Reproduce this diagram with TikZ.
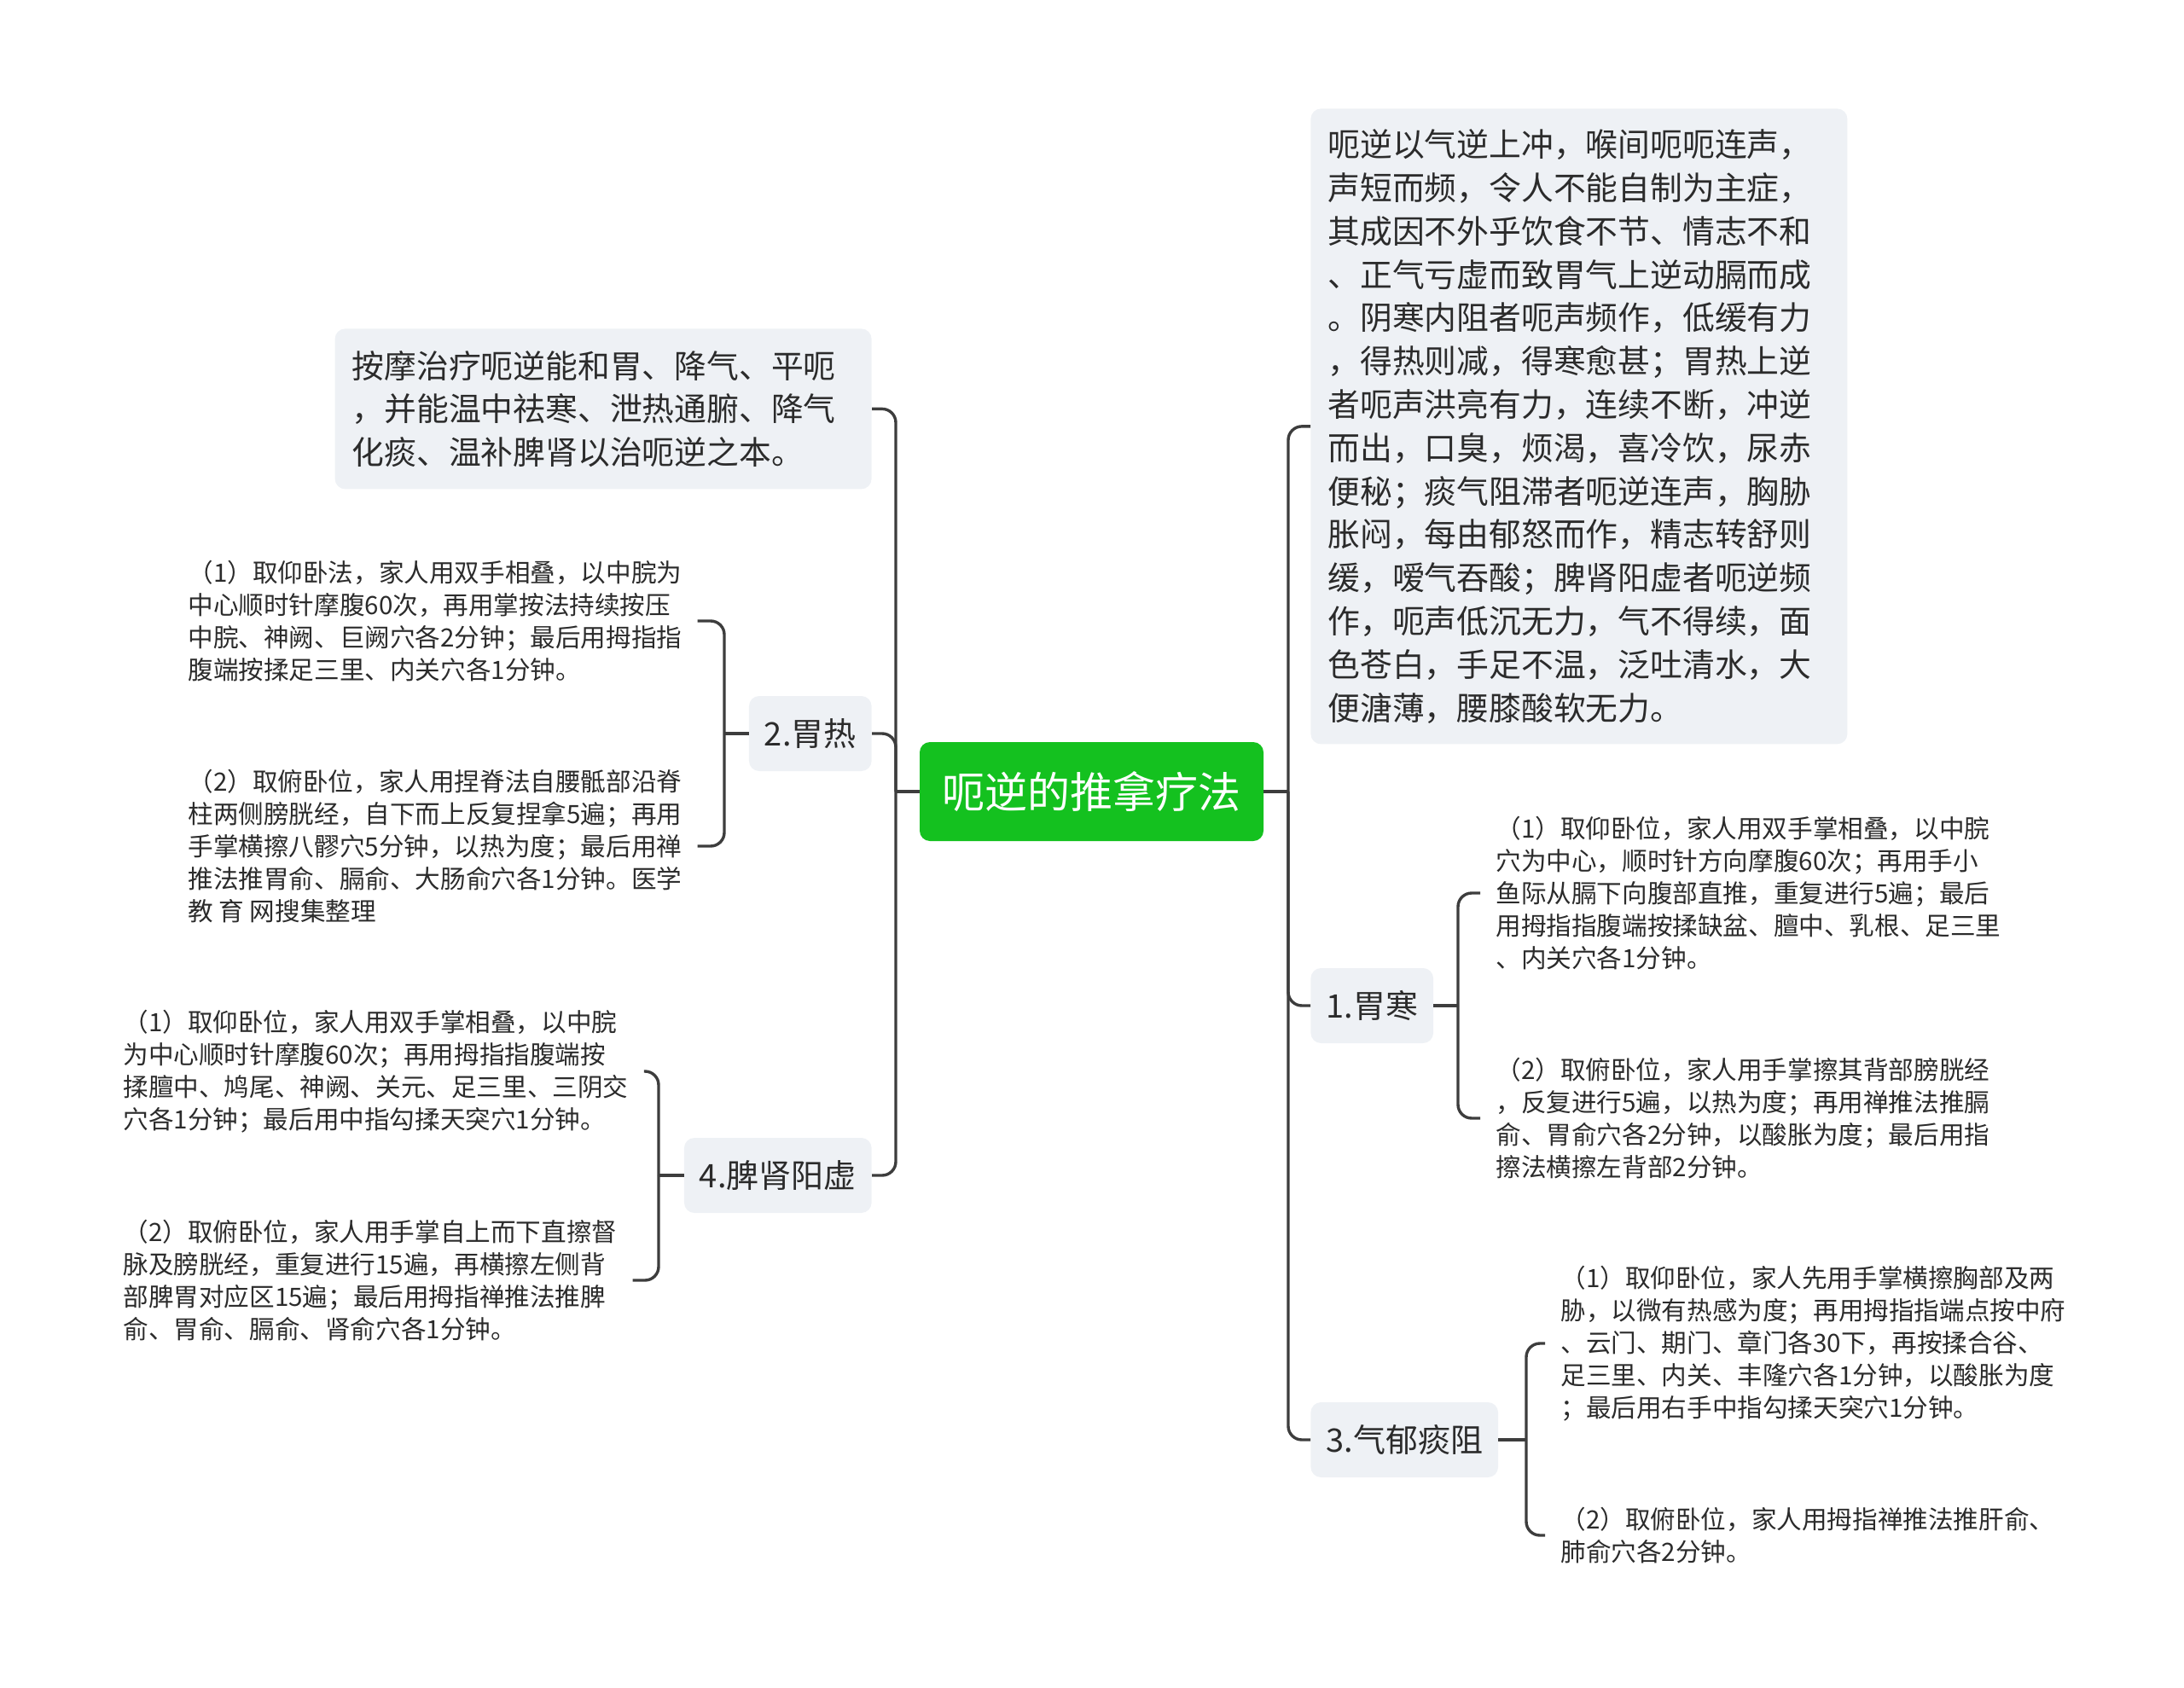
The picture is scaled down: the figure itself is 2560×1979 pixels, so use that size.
\documentclass[tikz,border=0pt]{standalone}
\usepackage{fontspec}
\setmainfont{Noto Sans CJK SC}
\usepackage{xcolor}
\definecolor{rootgreen}{HTML}{14C11F}
\definecolor{boxgray}{HTML}{EEF1F5}
\definecolor{linegray}{HTML}{3D3D3D}
\definecolor{textgray}{HTML}{2B2B2B}
\usetikzlibrary{positioning, calc}

\begin{document}
\begin{tikzpicture}[x=0.5pt, y=-0.5pt,
    root/.style={rectangle, rounded corners=6pt, fill=rootgreen, text=white, minimum width=201.5pt, minimum height=58pt, font=\fontsize{25pt}{30pt}\selectfont},
    textbox/.style={rectangle, rounded corners=6pt, fill=boxgray, text=textgray, text width=294.5pt, inner xsep=10pt, align=left, font=\fontsize{18.9pt}{25.4pt}\selectfont},
    branch/.style={rectangle, rounded corners=6pt, fill=boxgray, text=textgray, inner xsep=9pt, minimum height=44pt, font=\fontsize{19pt}{23pt}\selectfont},
    leaf/.style={rectangle, inner xsep=9pt, inner ysep=3pt, align=left, text=textgray, font=\fontsize{14.8pt}{19pt}\selectfont},
    link/.style={draw=linegray, line width=1.7pt, rounded corners=8pt}]

        \useasboundingbox (0,0) rectangle (2560,1979);

        % Wurzel
        \node[root] (root) at (1279.5,928) {呃逆的推拿疗法};

        % Linke Seite
        \node[textbox, anchor=north east, minimum height=94pt] (intro) at (1022,385) {按摩治疗呃逆能和胃、降气、平呃\\，并能温中祛寒、泄热通腑、降气\\化痰、温补脾肾以治呃逆之本。};
        \node[branch, anchor=east] (weire) at (1022,860) {2.胃热};
        \node[branch, anchor=east] (pishen) at (1022,1378) {4.脾肾阳虚};

        \node[leaf, anchor=west] (weire1) at (202,728) {（1）取仰卧法，家人用双手相叠，以中脘为\\中心顺时针摩腹60次，再用掌按法持续按压\\中脘、神阙、巨阙穴各2分钟；最后用拇指指\\腹端按揉足三里、内关穴各1分钟。};
        \node[leaf, anchor=west] (weire2) at (202,992) {（2）取俯卧位，家人用捏脊法自腰骶部沿脊\\柱两侧膀胱经，自下而上反复捏拿5遍；再用\\手掌横擦八髎穴5分钟，以热为度；最后用禅\\推法推胃俞、膈俞、大肠俞穴各1分钟。医学\\教 育 网搜集整理};

        \node[leaf, anchor=west] (pishen1) at (126,1256) {（1）取仰卧位，家人用双手掌相叠，以中脘\\为中心顺时针摩腹60次；再用拇指指腹端按\\揉膻中、鸠尾、神阙、关元、足三里、三阴交\\穴各1分钟；最后用中指勾揉天突穴1分钟。};
        \node[leaf, anchor=west] (pishen2) at (126,1501) {（2）取俯卧位，家人用手掌自上而下直擦督\\脉及膀胱经，重复进行15遍，再横擦左侧背\\部脾胃对应区15遍；最后用拇指禅推法推脾\\俞、胃俞、膈俞、肾俞穴各1分钟。};

        % Rechte Seite
        \node[textbox, anchor=north west, minimum height=372.5pt] (desc) at (1536,127) {呃逆以气逆上冲，喉间呃呃连声，\\声短而频，令人不能自制为主症，\\其成因不外乎饮食不节、情志不和\\、正气亏虚而致胃气上逆动膈而成\\。阴寒内阻者呃声频作，低缓有力\\，得热则减，得寒愈甚；胃热上逆\\者呃声洪亮有力，连续不断，冲逆\\而出，口臭，烦渴，喜冷饮，尿赤\\便秘；痰气阻滞者呃逆连声，胸胁\\胀闷，每由郁怒而作，精志转舒则\\缓，嗳气吞酸；脾肾阳虚者呃逆频\\作，呃声低沉无力，气不得续，面\\色苍白，手足不温，泛吐清水，大\\便溏薄，腰膝酸软无力。};
        \node[branch, anchor=west] (weihan) at (1536,1179) {1.胃寒};
        \node[branch, anchor=west] (qiyu) at (1536,1688) {3.气郁痰阻};

        \node[leaf, anchor=west] (weihan1) at (1735,1047) {（1）取仰卧位，家人用双手掌相叠，以中脘\\穴为中心，顺时针方向摩腹60次；再用手小\\鱼际从膈下向腹部直推，重复进行5遍；最后\\用拇指指腹端按揉缺盆、膻中、乳根、足三里\\、内关穴各1分钟。};
        \node[leaf, anchor=west] (weihan2) at (1735,1311) {（2）取俯卧位，家人用手掌擦其背部膀胱经\\，反复进行5遍，以热为度；再用禅推法推膈\\俞、胃俞穴各2分钟，以酸胀为度；最后用指\\擦法横擦左背部2分钟。};

        \node[leaf, anchor=west] (qiyu1) at (1811,1575) {（1）取仰卧位，家人先用手掌横擦胸部及两\\胁，以微有热感为度；再用拇指指端点按中府\\、云门、期门、章门各30下，再按揉合谷、\\足三里、内关、丰隆穴各1分钟，以酸胀为度\\；最后用右手中指勾揉天突穴1分钟。};
        \node[leaf, anchor=west] (qiyu2) at (1811,1800) {（2）取俯卧位，家人用拇指禅推法推肝俞、\\肺俞穴各2分钟。};

        % Verzweigungspunkte
        \coordinate (lsp) at (1050,928);
        \coordinate (rsp) at (1510,928);
        \coordinate (weiresp) at (849,860);
        \coordinate (pishensp) at (772,1378);
        \coordinate (weihansp) at (1709,1179);
        \coordinate (qiyusp) at (1789,1688);

        % Verbindungen links
        \draw[link] (root.west) -- (lsp);
        \draw[link] (lsp) |- (intro.east);
        \draw[link] (lsp) |- (weire.east);
        \draw[link] (lsp) |- (pishen.east);

        \draw[link] (weire.west) -- (weiresp);
        \draw[link] (weiresp) |- (weire1.east);
        \draw[link] (weiresp) |- (weire2.east);

        \draw[link] (pishen.west) -- (pishensp);
        \draw[link] (pishensp) |- (pishen1.east);
        \draw[link] (pishensp) |- (pishen2.east);

        % Verbindungen rechts
        \draw[link] (root.east) -- (rsp);
        \draw[link] (rsp) |- (desc.west);
        \draw[link] (rsp) |- (weihan.west);
        \draw[link] (rsp) |- (qiyu.west);

        \draw[link] (weihan.east) -- (weihansp);
        \draw[link] (weihansp) |- (weihan1.west);
        \draw[link] (weihansp) |- (weihan2.west);

        \draw[link] (qiyu.east) -- (qiyusp);
        \draw[link] (qiyusp) |- (qiyu1.west);
        \draw[link] (qiyusp) |- (qiyu2.west);

      \end{tikzpicture}
\end{document}
